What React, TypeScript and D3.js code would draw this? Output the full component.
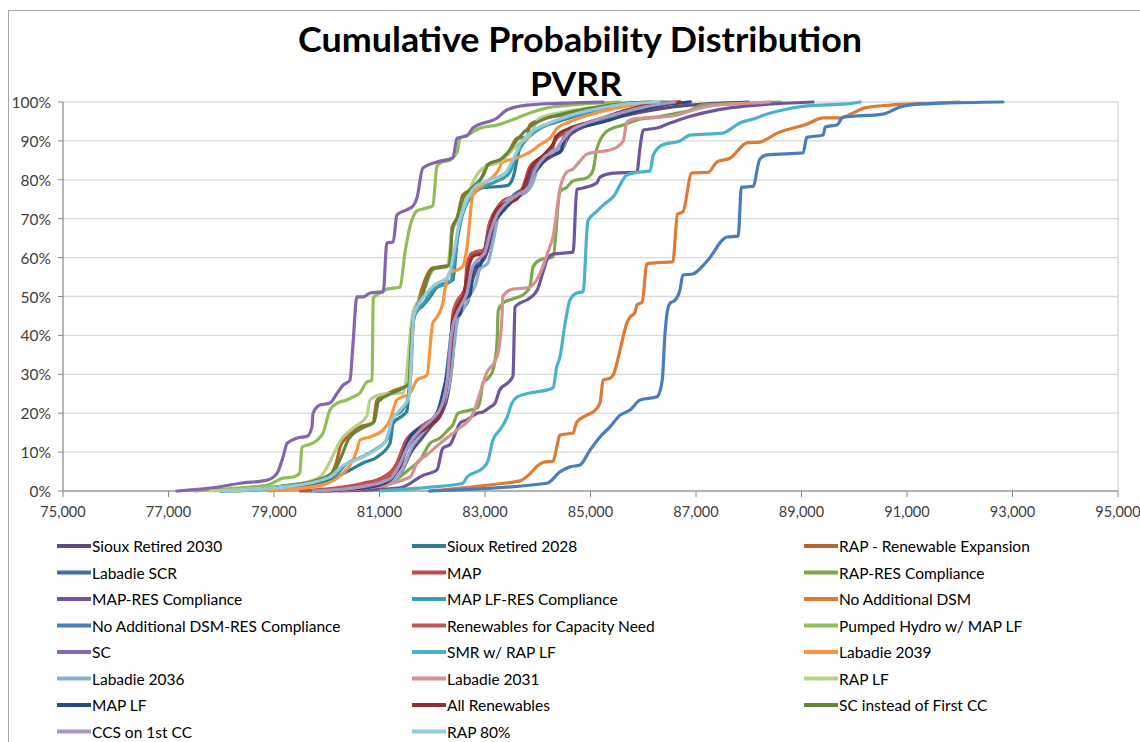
import * as d3 from 'd3';

// Axis ticks
const X_TICKS = [75000, 77000, 79000, 81000, 83000, 85000, 87000, 89000, 91000, 93000, 95000];
const Y_TICKS = [0, 10, 20, 30, 40, 50, 60, 70, 80, 90, 100];

// Legend / series order (as in the source chart)
const SERIES_NAMES = [
  'Sioux Retired 2030',
  'Sioux Retired 2028',
  'RAP - Renewable Expansion',
  'Labadie SCR',
  'MAP',
  'RAP-RES Compliance',
  'MAP-RES Compliance',
  'MAP LF-RES Compliance',
  'No Additional DSM',
  'No Additional DSM-RES Compliance',
  'Renewables for Capacity Need',
  'Pumped Hydro w/ MAP LF',
  'SC',
  'SMR w/ RAP LF',
  'Labadie 2039',
  'Labadie 2036',
  'Labadie 2031',
  'RAP LF',
  'MAP LF',
  'All Renewables',
  'SC instead of First CC',
  'CCS on 1st CC',
  'RAP 80%',
];

const SERIES_COLORS = [
  '#5e4a7e', '#2e7f93', '#b5652a', '#3f6ead', '#be4b48', '#7fa648',
  '#6e55a0', '#3a9db5', '#de7a31', '#4a7dc0', '#c6524f', '#93be55',
  '#8664ae', '#4bb2cc', '#f8943f', '#8fabd5', '#d39391', '#b6d08c',
  '#274b80', '#8e3230', '#6a8436', '#a897c3', '#93cbdb',
];

// [PVRR, cumulative %]
const siouxRetired2030: [number, number][] = [
  [80000, 0], [80900, 0.8], [81250, 2.5], [81420, 5], [81600, 10], [81800, 13.5], [82000, 17],
  [82180, 20], [82300, 25], [82380, 33], [82440, 43], [82560, 46.5], [82680, 49], [82780, 55],
  [82880, 58], [83000, 60], [83120, 65], [83220, 69.5], [83380, 72.5], [83560, 75], [83800, 77.5],
  [83920, 81], [84100, 84.5], [84260, 86], [84450, 87.5], [84580, 91], [84780, 93], [85100, 94.5],
  [85500, 96], [86000, 97.5], [86600, 98.8], [87300, 99.6], [88000, 100],
];
const siouxRetired2028: [number, number][] = [
  [77980, 0], [79300, 1], [80190, 3.6], [80440, 5.4], [80690, 7.2], [80950, 8.7], [81200, 12.3],
  [81260, 17.5], [81450, 19.5], [81520, 20.6], [81580, 30.6], [81620, 39.8], [81640, 44.7],
  [81710, 46.3], [81820, 47.6], [81960, 49.9], [82090, 52.4], [82390, 54.2], [82490, 67],
  [82580, 71.5], [82720, 75.8], [82910, 77.9], [83420, 78.5], [83530, 80.5], [83660, 88.2],
  [83800, 90.7], [84040, 93.3], [84370, 94.9], [84800, 96.7], [85430, 98.5], [86070, 99.7], [86510, 100],
];
const rapRenewableExpansion: [number, number][] = [
  [78170, 0], [79490, 1.5], [80060, 4.1], [80190, 7.7], [80250, 11.1], [80380, 13.9], [80630, 16.5],
  [80880, 17.5], [80950, 23.4], [81260, 25.7], [81580, 27.8], [81640, 43.2], [81710, 47.3],
  [82000, 57.3], [82340, 58.1], [82370, 67.6], [82470, 70.2], [82580, 76.1], [82720, 77.4],
  [82960, 81.2], [83040, 83.8], [83280, 85.1], [83420, 86.4], [83610, 90.7], [83800, 91],
  [83850, 94.1], [84040, 95.4], [84480, 96.7], [85120, 98.5], [85750, 99.7], [86130, 100],
];
const labadieSCR: [number, number][] = [
  [79700, 0], [80600, 0.8], [81150, 2.5], [81300, 4.5], [81500, 10.5], [81700, 14.5], [81950, 17.8],
  [82120, 21], [82240, 27], [82320, 36], [82380, 42.5], [82500, 46], [82600, 49.5], [82720, 52],
  [82800, 57.8], [82930, 59], [83020, 63], [83120, 68.5], [83250, 71.5], [83400, 74], [83580, 76.5],
  [83780, 78.5], [83900, 82.5], [84060, 85.5], [84200, 87], [84400, 88], [84500, 91], [84700, 93],
  [84950, 94.5], [85300, 96], [85700, 97.5], [86200, 99], [86900, 100],
];
const map: [number, number][] = [
  [79500, 0], [80690, 2], [81070, 3.6], [81330, 7.2], [81450, 11.3], [81640, 14.9], [81820, 16.5],
  [82090, 19], [82200, 23.1], [82280, 29], [82340, 34.4], [82390, 45.5], [82470, 48.8], [82620, 51.7],
  [82660, 58.4], [82770, 61.2], [82960, 61.2], [83100, 69.4], [83230, 72.8], [83340, 74.6],
  [83610, 76.1], [83720, 78.1], [83850, 83.3], [84100, 86], [84290, 88.4], [84330, 91], [84670, 93.1],
  [84930, 94.3], [85240, 95.6], [85620, 97.4], [86130, 99], [86700, 100],
];
const rapResCompliance: [number, number][] = [
  [79870, 0], [81010, 1], [81620, 6.2], [81770, 8], [81960, 12.3], [82150, 13.6], [82300, 15.7],
  [82390, 17], [82490, 20], [82720, 20.8], [82850, 21.3], [82910, 23.4], [82960, 27.8], [83060, 29],
  [83150, 31], [83230, 38.6], [83250, 46.3], [83340, 48.3], [83530, 49.4], [83720, 50.4],
  [83850, 52.4], [83910, 57.6], [84040, 59.4], [84290, 60.2], [84420, 76.9], [84550, 78.1],
  [84670, 79.7], [84930, 80.5], [85050, 82.5], [85120, 88], [85310, 92.5], [85620, 94.1],
  [85940, 95.6], [86260, 96.1], [86560, 96.9], [86890, 97.9], [87130, 99.2], [88080, 99.7], [88600, 100],
];
const mapResCompliance: [number, number][] = [
  [80250, 0], [81390, 0.8], [81820, 4], [82090, 5.4], [82200, 11], [82340, 12], [82470, 15.9],
  [82530, 17.5], [82660, 18.3], [82850, 20], [82960, 20.3], [83100, 21.6], [83190, 22.6],
  [83280, 26], [83470, 28.3], [83530, 29.6], [83570, 47.3], [83660, 48.3], [83790, 49.1],
  [83990, 51.7], [84100, 56.3], [84180, 59.6], [84290, 60.9], [84670, 61.4], [84740, 77.5],
  [84860, 77.9], [85120, 79.2], [85180, 80.7], [85430, 81.7], [85880, 82], [85940, 88.4],
  [86000, 92.8], [86260, 93.3], [86510, 94.6], [86830, 96.1], [87210, 97.4], [87640, 98.5],
  [88160, 99.2], [89220, 100],
];
const mapLfResCompliance: [number, number][] = [
  [78000, 0], [79100, 1.2], [80150, 4], [80380, 7], [80620, 8.5], [80900, 10.5], [81180, 14],
  [81250, 19], [81420, 20.5], [81560, 25], [81610, 38], [81640, 44], [81700, 46], [81850, 48.5],
  [82000, 51.5], [82350, 54], [82470, 64], [82560, 70.5], [82700, 75], [82880, 77.5], [83200, 79.5],
  [83450, 81.5], [83620, 87], [83760, 90], [84000, 92.8], [84300, 94.8], [84700, 96.5],
  [85300, 98.3], [85900, 99.6], [86400, 100],
];
const noAdditionalDsm: [number, number][] = [
  [81960, 0], [83230, 1.8], [83660, 2.6], [83850, 4.4], [83990, 6.4], [84140, 7.5], [84290, 7.6],
  [84360, 11.3], [84420, 14.4], [84670, 14.9], [84740, 17.7], [84930, 19.5], [85090, 20.8],
  [85180, 22.6], [85240, 28.5], [85370, 29], [85430, 29.8], [85560, 36.2], [85690, 43.2],
  [85750, 44.7], [85840, 45.8], [85880, 47.8], [85980, 48.6], [86070, 58.4], [86180, 58.6],
  [86560, 58.9], [86650, 71.2], [86750, 71.7], [86920, 81.8], [87230, 81.9], [87400, 84.6],
  [87650, 85.6], [87970, 89.5], [88210, 89.7], [88540, 92], [89100, 94.3], [89410, 95.9],
  [89730, 95.9], [89980, 97.2], [90200, 98.5], [90680, 99.2], [91630, 99.7], [92000, 100],
];
const noAdditionalDsmRes: [number, number][] = [
  [81950, 0], [84175, 2], [84420, 4.9], [84610, 6.2], [84800, 6.7], [84990, 10.5], [85180, 13.9],
  [85370, 16.5], [85560, 19.5], [85750, 20.8], [85940, 23.4], [86260, 24.2], [86360, 28.5],
  [86410, 40], [86460, 46.5], [86510, 48.3], [86600, 49], [86700, 51.9], [86750, 55.5],
  [86940, 55.8], [87210, 59.1], [87590, 65.3], [87800, 65.5], [87860, 78.1], [88080, 78.3],
  [88210, 85.3], [88350, 86.4], [89030, 86.9], [89100, 90.9], [89410, 91.5], [89450, 93.6],
  [89670, 94.1], [89790, 96.1], [90540, 96.9], [90870, 98.7], [91250, 99.5], [91630, 99.7], [92820, 100],
];
const renewablesForCapacity: [number, number][] = [
  [79600, 0], [80750, 1.8], [81150, 4], [81380, 8], [81480, 12.5], [81680, 15.5], [81880, 17.5],
  [82130, 20], [82240, 24.5], [82310, 31], [82360, 38], [82420, 46.5], [82520, 49.5], [82640, 53],
  [82700, 59], [82820, 61.5], [82990, 62], [83070, 68], [83200, 72], [83330, 74], [83560, 75.5],
  [83700, 77.5], [83830, 82], [84060, 85.5], [84250, 88], [84350, 90.5], [84620, 92.5],
  [84900, 94], [85200, 95.5], [85600, 97.2], [86000, 98.8], [86600, 100],
];
const pumpedHydro: [number, number][] = [
  [77500, 0], [78360, 0.8], [78870, 1.5], [79170, 3.3], [79360, 3.6], [79490, 4.6], [79530, 11.3],
  [79630, 11.8], [79820, 13.1], [79930, 14.9], [80060, 20.8], [80200, 22.6], [80380, 23.4],
  [80500, 24.2], [80630, 25.2], [80760, 28], [80860, 28.5], [80880, 49.6], [81010, 50.9],
  [81140, 51.9], [81390, 52.4], [81480, 61], [81580, 68.1], [81710, 72], [81820, 72.5],
  [82010, 73.3], [82090, 83.5], [82150, 84.3], [82340, 85.1], [82470, 87.1], [82530, 90.7],
  [82660, 91.5], [82910, 93.3], [83230, 94.1], [83610, 95.9], [83850, 97.2], [84180, 98.5],
  [84610, 99.2], [85120, 99.7], [85560, 100],
];
const sc: [number, number][] = [
  [77160, 0], [77840, 0.8], [78360, 2], [78870, 2.8], [79060, 4.6], [79170, 8.7], [79250, 12.3],
  [79440, 13.6], [79630, 14.1], [79720, 16.5], [79740, 20], [79870, 22.1], [80060, 22.6],
  [80200, 25.2], [80310, 27.2], [80440, 28.5], [80500, 38.3], [80570, 49.9], [80690, 49.9],
  [80820, 50.9], [81070, 51.2], [81140, 63.8], [81260, 64], [81330, 71], [81520, 72.3],
  [81640, 73.3], [81710, 75.3], [81820, 83], [82090, 84.6], [82390, 85.6], [82470, 90.7],
  [82660, 91.3], [82770, 93.3], [83230, 95.9], [83420, 98], [83800, 99.2], [84480, 99.7], [85240, 100],
];
const smrRapLf: [number, number][] = [
  [81010, 0], [81960, 1], [82580, 2], [82660, 3.6], [82960, 5.9], [83060, 7.9], [83150, 13.1],
  [83280, 15.7], [83420, 19], [83510, 22.6], [83610, 24.2], [83850, 25.2], [84180, 26], [84290, 26.5],
  [84360, 31.9], [84420, 34.4], [84520, 43.2], [84610, 49.1], [84740, 50.9], [84860, 51.2],
  [84950, 69.4], [85120, 71.9], [85240, 73.5], [85430, 75.6], [85690, 81.2], [85940, 82],
  [86130, 82.3], [86190, 86.4], [86370, 89], [86700, 90], [86890, 91.5], [87510, 92], [87680, 93.3],
  [87830, 94.6], [88080, 95.6], [88350, 96.9], [88730, 98.2], [89100, 99], [89860, 99.5], [90110, 100],
];
const labadie2039: [number, number][] = [
  [78900, 0], [79900, 1.5], [80300, 4.5], [80500, 8], [80570, 10.5], [80630, 13.1], [80820, 13.9],
  [81070, 15.7], [81200, 18.3], [81330, 23.4], [81580, 25.2], [81710, 28.5], [81900, 29.8],
  [82010, 43.2], [82090, 44.7], [82200, 48.3], [82240, 51.7], [82340, 56.3], [82470, 56.8],
  [82580, 57.8], [82660, 62.7], [82770, 76.1], [82960, 78.7], [83230, 82], [83340, 84.6],
  [83610, 85.6], [83850, 87.1], [84040, 89], [84230, 90.7], [84370, 93.3], [84610, 94.9],
  [84990, 96.7], [85500, 98.5], [86130, 99.7], [86700, 100],
];
const labadie2036: [number, number][] = [
  [79900, 0], [80800, 1], [81300, 3], [81450, 6], [81620, 11.5], [81850, 15.5], [82050, 18.5],
  [82220, 22.5], [82330, 28], [82420, 38], [82480, 44], [82600, 47], [82700, 50], [82820, 53],
  [82900, 57], [83050, 58.5], [83150, 64], [83250, 70.5], [83350, 74], [83530, 75.5], [83750, 76.5],
  [83900, 79], [84000, 83], [84180, 86.5], [84300, 87.5], [84500, 88.5], [84560, 92.5], [84800, 94],
  [85100, 95], [85500, 96.5], [85900, 98], [86400, 99.4], [86900, 100],
];
const labadie2031: [number, number][] = [
  [80060, 0], [80760, 0.8], [81580, 3.6], [81710, 7.2], [81900, 9.3], [82150, 12.3], [82470, 15.7],
  [82770, 19.8], [82910, 25.4], [83040, 30.6], [83190, 33.4], [83250, 35.7], [83320, 44.2],
  [83340, 50.1], [83530, 51.9], [83800, 52.2], [83990, 54.5], [84100, 57.8], [84230, 62.9],
  [84290, 65.3], [84420, 77.6], [84550, 82], [84670, 82.8], [84800, 84.8], [84930, 86.6],
  [85430, 87.9], [85620, 90], [85690, 94.9], [85810, 95.6], [86260, 96.1], [86560, 96.4],
  [86890, 97.7], [87270, 99], [87970, 99.7], [88400, 100],
];
const rapLf: [number, number][] = [
  [77790, 0], [79300, 1.3], [79870, 3.6], [80310, 13.9], [80500, 16.2], [80760, 19.3], [80820, 23.4],
  [81070, 24.9], [81450, 25.2], [81640, 46.3], [81770, 49.4], [82060, 57.3], [82280, 57.5],
  [82390, 67.6], [82530, 70.2], [82660, 75.8], [82770, 79.4], [82960, 83], [83280, 84.6],
  [83610, 88.9], [83850, 91.5], [84040, 95.9], [84480, 97.4], [85120, 98.7], [85750, 100],
];
const mapLf: [number, number][] = [
  [79870, 0], [80820, 1], [81200, 2.8], [81330, 5.4], [81580, 13.9], [81900, 17.2], [82090, 19.8],
  [82200, 25.2], [82340, 35.7], [82390, 44.2], [82530, 45.5], [82580, 48.8], [82720, 50.6],
  [82770, 57.3], [82910, 58.1], [83040, 64.5], [83100, 67.6], [83230, 70.2], [83420, 73.5],
  [83610, 76.1], [83800, 77.9], [83910, 81.2], [84100, 84.6], [84230, 86.4], [84420, 87.1],
  [84550, 91.5], [84740, 93.3], [84990, 94.1], [85370, 95.4], [85750, 97.2], [86370, 99.2], [86890, 100],
];
const allRenewables: [number, number][] = [
  [79800, 0], [80900, 1.5], [81200, 3.5], [81400, 6.5], [81520, 11], [81720, 14.5], [81920, 16.5],
  [82150, 19.5], [82260, 26], [82330, 33], [82400, 44], [82500, 48], [82600, 50.5], [82680, 57],
  [82790, 60.5], [82950, 61], [83080, 66], [83180, 71.5], [83320, 73.5], [83600, 75], [83750, 78.5],
  [83870, 83], [84120, 86.5], [84280, 89], [84380, 91.5], [84650, 93.5], [84960, 94.8],
  [85300, 96.2], [85650, 97.8], [86100, 99.3], [86700, 100],
];
const scInsteadOfFirstCC: [number, number][] = [
  [78300, 0], [79400, 1.5], [80100, 4.5], [80280, 9], [80420, 13.5], [80650, 16], [80900, 17.8],
  [80980, 23], [81250, 25.2], [81550, 27.5], [81620, 42], [81700, 47], [81800, 50], [82000, 57],
  [82320, 58], [82380, 67], [82480, 70.5], [82590, 75.5], [82720, 77.5], [82980, 81.5], [83060, 84],
  [83300, 85.3], [83430, 87], [83620, 90.5], [83840, 93.5], [84100, 95.5], [84500, 97],
  [85100, 98.6], [85700, 99.7], [86200, 100],
];
const ccsOn1stCC: [number, number][] = [
  [79750, 0], [80700, 1.2], [81200, 3.2], [81350, 6], [81560, 12], [81760, 15.5], [82000, 18.5],
  [82180, 22], [82290, 29], [82360, 40], [82450, 45], [82560, 48], [82660, 51], [82760, 57.5],
  [82870, 59.5], [83000, 61.5], [83110, 67], [83230, 71], [83370, 73.5], [83600, 76], [83820, 78],
  [83950, 82.5], [84140, 86], [84330, 87.5], [84460, 90], [84620, 92.5], [84880, 94.3],
  [85200, 95.8], [85600, 97.3], [86050, 98.8], [86600, 100],
];
const rap80: [number, number][] = [
  [78100, 0], [79200, 1], [80050, 3.5], [80300, 6.5], [80560, 8], [80850, 10], [81120, 13],
  [81230, 18], [81400, 21], [81560, 24], [81600, 33], [81650, 45], [81740, 48], [81900, 51],
  [82050, 53], [82300, 55], [82420, 62], [82520, 69.5], [82650, 74.5], [82800, 78], [83100, 80],
  [83400, 82], [83560, 86], [83680, 89.5], [83900, 92.5], [84200, 94.5], [84600, 96.5],
  [85100, 98.2], [85700, 99.5], [86300, 100],
];

const SERIES_DATA = [
  siouxRetired2030, siouxRetired2028, rapRenewableExpansion, labadieSCR, map, rapResCompliance,
  mapResCompliance, mapLfResCompliance, noAdditionalDsm, noAdditionalDsmRes, renewablesForCapacity,
  pumpedHydro, sc, smrRapLf, labadie2039, labadie2036, labadie2031, rapLf, mapLf, allRenewables,
  scInsteadOfFirstCC, ccsOn1stCC, rap80,
];

const WIDTH = 1140;
const HEIGHT = 742;
const FONT = 'Lato, "Liberation Sans", sans-serif';

export default function App() {
  const x = d3.scaleLinear().domain([75000, 95000]).range([63, 1118]);
  const y = d3.scaleLinear().domain([0, 100]).range([491, 102]);

  const line = d3
    .line<[number, number]>()
    .x((d) => x(d[0]))
    .y((d) => y(d[1]))
    .curve(d3.curveMonotoneX);

  const fmt = d3.format(',');
  const legendCols = [57, 412, 804];
  const legendRow = (r: number) => 546 + r * 26.5;

  return (
    <svg
      width={WIDTH}
      height={HEIGHT}
      style={{ position: 'absolute', left: 0, top: 0, background: '#fff' }}
      fontFamily={FONT}
    >
      <rect x={8.5} y={10.5} width={1160} height={760} fill="#fff" stroke="#a6a6a6" />

      {/* Title */}
      <text x={580} y={52} textAnchor="middle" fontSize={34} fontWeight={700} fill="#000"
        textLength={564} lengthAdjust="spacingAndGlyphs">
        Cumulative Probability Distribution
      </text>
      <text x={576} y={96} textAnchor="middle" fontSize={32} fontWeight={700} fill="#000"
        textLength={92} lengthAdjust="spacingAndGlyphs">
        PVRR
      </text>

      {/* Gridlines */}
      {Y_TICKS.map((t) => (
        <line key={`g${t}`} x1={63} x2={1118} y1={y(t)} y2={y(t)} stroke="#d9d9d9" strokeWidth={1.3} />
      ))}
      <line x1={1118} x2={1118} y1={y(100)} y2={y(0)} stroke="#d9d9d9" strokeWidth={1.3} />

      {/* Y axis */}
      <line x1={63} x2={63} y1={y(100)} y2={y(0)} stroke="#868686" strokeWidth={1.2} />
      {Y_TICKS.map((t) => (
        <g key={`y${t}`}>
          <line x1={58} x2={63} y1={y(t)} y2={y(t)} stroke="#868686" />
          <text x={51} y={y(t)} textAnchor="end" dominantBaseline="central" fontSize={15.5} fill="#404040">
            {`${t}%`}
          </text>
        </g>
      ))}

      {/* X axis */}
      <line x1={63} x2={1118} y1={y(0)} y2={y(0)} stroke="#868686" strokeWidth={1.2} />
      {X_TICKS.map((t) => (
        <g key={`x${t}`}>
          <line x1={x(t)} x2={x(t)} y1={y(0)} y2={y(0) + 6} stroke="#868686" />
          <text x={x(t)} y={511} textAnchor="middle" dominantBaseline="central" fontSize={14.5} fill="#404040">
            {fmt(t)}
          </text>
        </g>
      ))}

      {/* Series */}
      {SERIES_DATA.map((data, i) => (
        <path
          key={`s${i}`}
          d={line(data) ?? ''}
          fill="none"
          stroke={SERIES_COLORS[i]}
          strokeWidth={3.2}
          strokeLinejoin="round"
          strokeLinecap="round"
        />
      ))}

      {/* Legend */}
      {SERIES_NAMES.map((name, i) => {
        const cx = legendCols[i % 3];
        const cy = legendRow(Math.floor(i / 3));
        return (
          <g key={`l${i}`}>
            <line x1={cx} x2={cx + 34} y1={cy} y2={cy} stroke={SERIES_COLORS[i]} strokeWidth={4} />
            <text x={cx + 35} y={cy} dominantBaseline="central" fontSize={15.5} fill="#000">
              {name}
            </text>
          </g>
        );
      })}
    </svg>
  );
}
